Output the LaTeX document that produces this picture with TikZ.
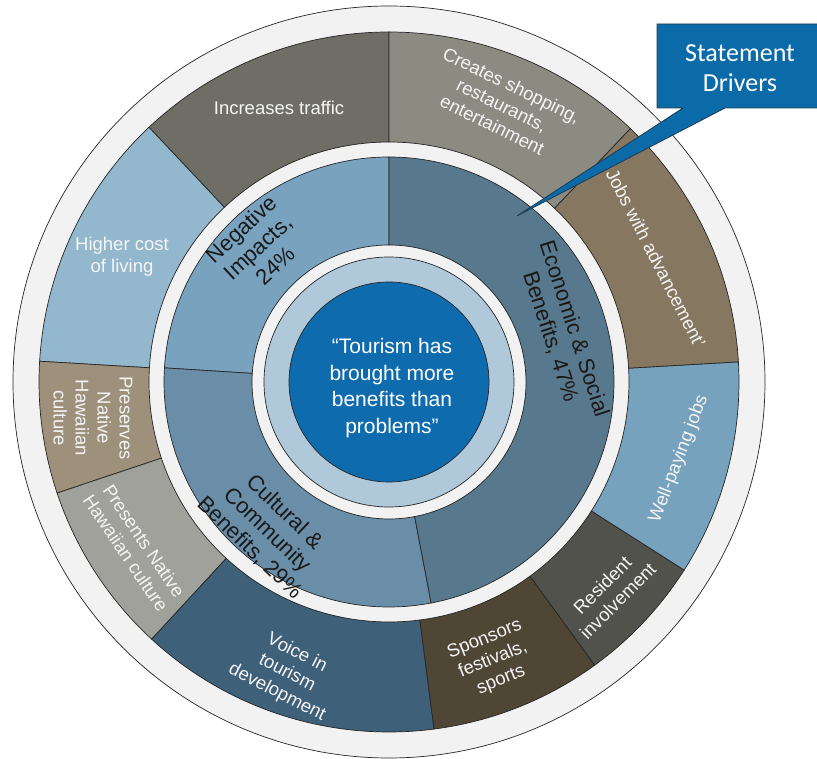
\documentclass[tikz,border=0pt]{standalone}
\usepackage{fontspec}
\setmainfont{Liberation Sans}
\newfontfamily\calloutfont{Carlito}

\definecolor{bandgray}{HTML}{F2F2F2}
\definecolor{trafficgray}{HTML}{6E6E67}
\definecolor{shoppinggray}{HTML}{8B8B82}
\definecolor{advancebrown}{HTML}{867860}
\definecolor{wellpayblue}{HTML}{77A2BD}
\definecolor{residentgray}{HTML}{52524D}
\definecolor{sponsorsbrown}{HTML}{4F4636}
\definecolor{voiceblue}{HTML}{3E6079}
\definecolor{presentsgray}{HTML}{A1A19B}
\definecolor{preservestan}{HTML}{9D917B}
\definecolor{costblue}{HTML}{93B7CD}
\definecolor{negativeblue}{HTML}{78A2BE}
\definecolor{economicblue}{HTML}{58788D}
\definecolor{culturalblue}{HTML}{6A8EA8}
\definecolor{ringblue}{HTML}{AFC9DA}
\definecolor{coreblue}{HTML}{0E6BAD}
\definecolor{calloutblue}{HTML}{0B6AA8}
\definecolor{calloutedge}{HTML}{1F3B52}

\begin{document}
\begin{tikzpicture}[x=1pt, y=1pt,
        part/.style={draw=black!85, line width=0.7pt},
        outerlabel/.style={text=white!96!black, align=center, font=\fontsize{18.5}{22}\selectfont},
        innerlabel/.style={text=black!90, align=center, font=\fontsize{22}{25}\selectfont}]
    \useasboundingbox (-389,-377) rectangle (428,382);
    \clip (-389,-377) rectangle (428,382);
    % outer band
    \draw[part, fill=bandgray] (0,0) circle[radius=376pt];
    % statement drivers, outer ring
    \draw[part, fill=trafficgray]
        (90:240) arc[start angle=90, end angle=133.3, radius=240pt]
        -- (133.3:350) arc[start angle=133.3, end angle=90, radius=350pt] -- cycle;
    \draw[part, fill=costblue]
        (133.3:240) arc[start angle=133.3, end angle=176.6, radius=240pt]
        -- (176.6:350) arc[start angle=176.6, end angle=133.3, radius=350pt] -- cycle;
    \draw[part, fill=preservestan]
        (176.6:240) arc[start angle=176.6, end angle=198.5, radius=240pt]
        -- (198.5:350) arc[start angle=198.5, end angle=176.6, radius=350pt] -- cycle;
    \draw[part, fill=presentsgray]
        (198.5:240) arc[start angle=198.5, end angle=227.3, radius=240pt]
        -- (227.3:350) arc[start angle=227.3, end angle=198.5, radius=350pt] -- cycle;
    \draw[part, fill=voiceblue]
        (227.3:240) arc[start angle=227.3, end angle=277.4, radius=240pt]
        -- (277.4:350) arc[start angle=277.4, end angle=227.3, radius=350pt] -- cycle;
    \draw[part, fill=sponsorsbrown]
        (277.4:240) arc[start angle=277.4, end angle=306, radius=240pt]
        -- (306:350) arc[start angle=306, end angle=277.4, radius=350pt] -- cycle;
    \draw[part, fill=residentgray]
        (306:240) arc[start angle=306, end angle=327.5, radius=240pt]
        -- (327.5:350) arc[start angle=327.5, end angle=306, radius=350pt] -- cycle;
    \draw[part, fill=wellpayblue]
        (327.5:240) arc[start angle=327.5, end angle=363.3, radius=240pt]
        -- (363.3:350) arc[start angle=363.3, end angle=327.5, radius=350pt] -- cycle;
    \draw[part, fill=advancebrown]
        (3.3:240) arc[start angle=3.3, end angle=46.4, radius=240pt]
        -- (46.4:350) arc[start angle=46.4, end angle=3.3, radius=350pt] -- cycle;
    \draw[part, fill=shoppinggray]
        (46.4:240) arc[start angle=46.4, end angle=90, radius=240pt]
        -- (90:350) arc[start angle=90, end angle=46.4, radius=350pt] -- cycle;
    % themes, middle ring
    \draw[part, fill=negativeblue]
        (90:137) arc[start angle=90, end angle=176.4, radius=137pt]
        -- (176.4:225) arc[start angle=176.4, end angle=90, radius=225pt] -- cycle;
    \draw[part, fill=culturalblue]
        (176.4:137) arc[start angle=176.4, end angle=280.8, radius=137pt]
        -- (280.8:225) arc[start angle=280.8, end angle=176.4, radius=225pt] -- cycle;
    \draw[part, fill=economicblue]
        (280.8:137) arc[start angle=280.8, end angle=450, radius=137pt]
        -- (450:225) arc[start angle=450, end angle=280.8, radius=225pt] -- cycle;
    % centre
    \draw[part, fill=ringblue] (0,0) circle[radius=125pt];
    \draw[part, fill=coreblue] (0,0) circle[radius=100pt];

    \node[outerlabel] (traffic) at (-110,274) {Increases traffic};
    \node[outerlabel, rotate=-26] (shopping) at (113,277) {Creates shopping,\\restaurants,\\entertainment};
    \node[outerlabel, rotate=-63] (advance) at (267,124) {Jobs with advancement'};
    \node[outerlabel, rotate=69] (wellpay) at (290,-77) {Well-paying jobs};
    \node[outerlabel, rotate=45] (resident) at (221,-211) {Resident\\involvement};
    \node[outerlabel, rotate=22] (sponsors) at (104,-278) {Sponsors\\festivals,\\sports};
    \node[outerlabel, rotate=-27] (voice) at (-102,-291) {Voice in\\tourism\\development};
    \node[outerlabel, rotate=-56] (presents) at (-254,-165) {Presents Native\\Hawaiian culture};
    \node[outerlabel, rotate=-90] (preserves) at (-296,-36) {Preserves\\Native\\Hawaiian\\culture};
    \node[outerlabel] (costliving) at (-267,125) {Higher cost\\of living};

    \node[innerlabel, rotate=43] (negative) at (-131,135) {Negative\\Impacts,\\24\%};
    \node[innerlabel, rotate=-72] (economic) at (173,49) {Economic \& Social\\Benefits, 47\%};
    \node[innerlabel, rotate=-44] (cultural) at (-122,-148) {Cultural \&\\Community\\Benefits, 29\%};

    \node[text=white, align=center, font=\fontsize{21}{26.5}\selectfont] (statement) at (3,-6)
        {“Tourism has\\brought more\\benefits than\\problems”};

    % callout
    \coordinate (tip) at (128,166);
    \draw[line width=0.8pt, draw=calloutedge, fill=calloutblue]
        (268,358) -- (432,358) -- (432,274) -- (336,274) -- (tip) -- (294,274) -- (268,274) -- cycle;
    \node[text=white, align=center, font=\calloutfont\fontsize{26}{30}\selectfont] (drivers) at (351,314)
        {Statement\\Drivers};
\end{tikzpicture}
\end{document}
